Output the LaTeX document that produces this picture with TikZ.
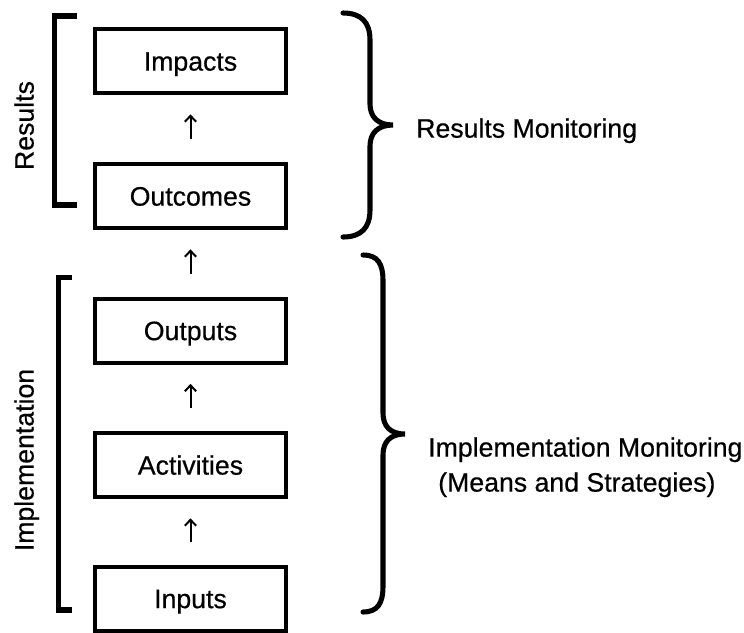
\documentclass[tikz,border=0pt]{standalone}
\usepackage{fontspec}
\setmainfont{Liberation Sans}
\newfontfamily\labelfont{Liberation Sans}[FakeBold=0.5]
\usetikzlibrary{arrows.meta}

\tikzset{
  stagebox/.style={draw, line width=3pt, minimum width=143.25pt, minimum height=48pt,
    inner sep=0pt, text height=14.4pt, text depth=0pt,
    font=\labelfont\fontsize{20}{24}\selectfont},
  sidelabel/.style={inner sep=0pt, text height=14.4pt, text depth=0pt,
    font=\labelfont\fontsize{20}{24}\selectfont},
  flow/.style={line width=1.5pt, -{Straight Barb[length=4.5pt,width=8.5pt]},
    shorten <=17pt, shorten >=14.5pt},
  bracket/.style={line width=4.2pt, line cap=butt, line join=miter},
  brace/.style={line width=3.8pt, line cap=round, line join=miter}
}

\begin{document}
\begin{tikzpicture}[x=0.75pt, y=-0.75pt]
\useasboundingbox (0,0) rectangle (744,633);

% the five stages of the chain
\node[stagebox] (imp)  at (190.5,61)    {Impacts};
\node[stagebox] (outc) at (190.5,196)   {Outcomes};
\node[stagebox] (outp) at (190.5,330.5) {Outputs};
\node[stagebox] (act)  at (190.5,465)   {Activities};
\node[stagebox] (inp)  at (190.5,598.5) {Inputs};

% upward flow between stages
\draw[flow] (outc.north) -- (imp.south);
\draw[flow] (outp.north) -- (outc.south);
\draw[flow] (act.north)  -- (outp.south);
\draw[flow] (inp.north)  -- (act.south);

% left square brackets with their labels
\coordinate (rb1) at (77,16);
\coordinate (rb2) at (77,205);
\draw[bracket] (rb1) -- (54.5,16) -- (54.5,205) -- (rb2);
\node[sidelabel, rotate=90] (reslab) at (24,125.5) {Results};

\coordinate (ib1) at (72,277.5);
\coordinate (ib2) at (72,610);
\draw[bracket] (ib1) -- (58.5,277.5) -- (58.5,610) -- (ib2);
\node[sidelabel, rotate=90] (implab) at (24,460) {Implementation};

% right curly braces
\draw[brace] (343,13) .. controls (361,13) and (370,22) .. (370,40)
  -- (370,104) .. controls (370,117) and (378,125) .. (393,125)
  .. controls (378,125) and (370,133) .. (370,146)
  -- (370,210) .. controls (370,228) and (361,237) .. (343,237);

\draw[brace] (363,255) .. controls (378,255) and (383,264) .. (383,281)
  -- (383,413) .. controls (383,426) and (390,434) .. (405,434)
  .. controls (390,434) and (383,442) .. (383,455)
  -- (383,586) .. controls (383,603) and (378,612) .. (363,612);

% monitoring labels
\node[sidelabel, anchor=west] (resmon) at (416,128) {Results Monitoring};
\node[sidelabel, anchor=west] (impmon1) at (428,447) {Implementation Monitoring};
\node[sidelabel, anchor=west] (impmon2) at (438,482) {(Means and Strategies)};
\end{tikzpicture}
\end{document}
